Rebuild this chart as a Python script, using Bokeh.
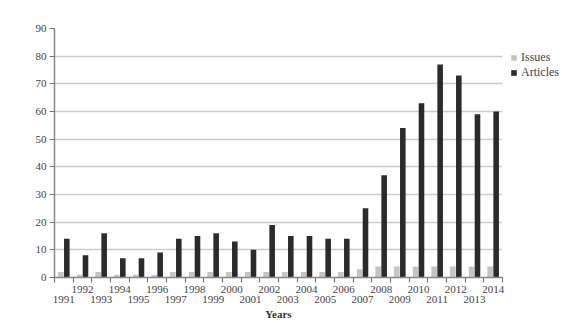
from bokeh.plotting import figure
from bokeh.layouts import row
from bokeh.models import FixedTicker, Range1d, Legend, LegendItem, ColumnDataSource
from bokeh.embed import file_html
from bokeh.resources import INLINE

years = list(range(1991, 2015))
issues = [2, 1, 2, 1, 1, 1, 2, 2, 2, 2, 2, 2, 2, 2, 2, 2, 3, 4, 4, 4, 4, 4, 4, 4]
articles = [14, 8, 16, 7, 7, 9, 14, 15, 16, 13, 10, 19, 15, 15, 14, 14, 25, 37, 54, 63, 77, 73, 59, 60]
y_ticks = list(range(0, 91, 10))
series_names = ["Issues", "Articles"]
series_colors = ["#c4c4c4", "#2b2b2b"]

FONT = "Liberation Serif"

p = figure(width=510, height=323, output_backend="svg", toolbar_location=None,
           x_range=Range1d(years[0] - 0.5, years[-1] + 0.5), y_range=Range1d(0, 90),
           min_border_left=54, min_border_right=8, min_border_top=28, min_border_bottom=20)
p.outline_line_color = None
p.background_fill_color = "white"
p.border_fill_color = "white"

xi = [y - 0.16 for y in years]
xa = [y + 0.16 for y in years]
p.vbar(x=xi, top=issues, width=0.3, color=series_colors[0], line_color=None)
p.vbar(x=xa, top=articles, width=0.3, color=series_colors[1], line_color=None)

# axes
xax = p.xaxis[0]
xax.ticker = FixedTicker(ticks=years, minor_ticks=[y + 0.5 for y in [years[0] - 1] + years])
xax.major_label_overrides = {y: (str(y) if y % 2 == 0 else "\n" + str(y)) for y in years}
xax.major_tick_line_color = None
xax.major_tick_out = 0
xax.minor_tick_in = 0
xax.minor_tick_out = 5
xax.minor_tick_line_color = "#777777"
xax.minor_tick_line_width = 1.2
xax.axis_line_color = "#888888"
xax.axis_line_width = 1.5
xax.major_label_standoff = 0
xax.major_label_text_font = FONT
xax.major_label_text_font_size = "11px"
xax.major_label_text_color = "#444444"
xax.major_label_text_line_height = 0.9
xax.axis_label = "Years"
xax.axis_label_text_font = FONT
xax.axis_label_text_font_size = "11px"
xax.axis_label_text_font_style = "bold"
xax.axis_label_text_color = "#333333"
xax.axis_label_standoff = 0

yax = p.yaxis[0]
yax.ticker = FixedTicker(ticks=y_ticks)
yax.minor_tick_line_color = None
yax.major_tick_in = 0
yax.major_tick_out = 5
yax.major_tick_line_color = "#777777"
yax.axis_line_color = "#888888"
yax.axis_line_width = 1.5
yax.major_label_standoff = 3
yax.major_label_text_font = FONT
yax.major_label_text_font_size = "11px"
yax.major_label_text_color = "#444444"

p.xgrid.grid_line_color = None
p.ygrid.grid_line_color = "#cccccc"
p.ygrid.grid_line_width = 1.5

# legend panel
pl = figure(width=65, height=323, output_backend="svg", toolbar_location=None,
            x_axis_type=None, y_axis_type=None,
            min_border_left=0, min_border_right=0, min_border_bottom=46, min_border_top=28,
            x_range=Range1d(0, 1), y_range=Range1d(0, 1))
pl.outline_line_color = None
pl.grid.grid_line_color = None
items = []
for name, col in zip(series_names, series_colors):
    # zero-height bar outside the view: only its legend swatch shows
    r = pl.vbar(x="x", top="top", width=0.3, color=col, line_color=None,
                source=ColumnDataSource(dict(x=[5], top=[0])))
    items.append(LegendItem(label=name, renderers=[r]))

legend = Legend(items=items, location=(0, 197), padding=0, margin=0, spacing=0,
                glyph_width=7, glyph_height=7, label_height=12, label_standoff=4,
                label_text_font=FONT, label_text_font_size="12px",
                label_text_color="#444444", border_line_color=None,
                background_fill_alpha=0)
pl.add_layout(legend, "center")

layout = row(p, pl)
open("out.html", "w").write(file_html(layout, INLINE))
